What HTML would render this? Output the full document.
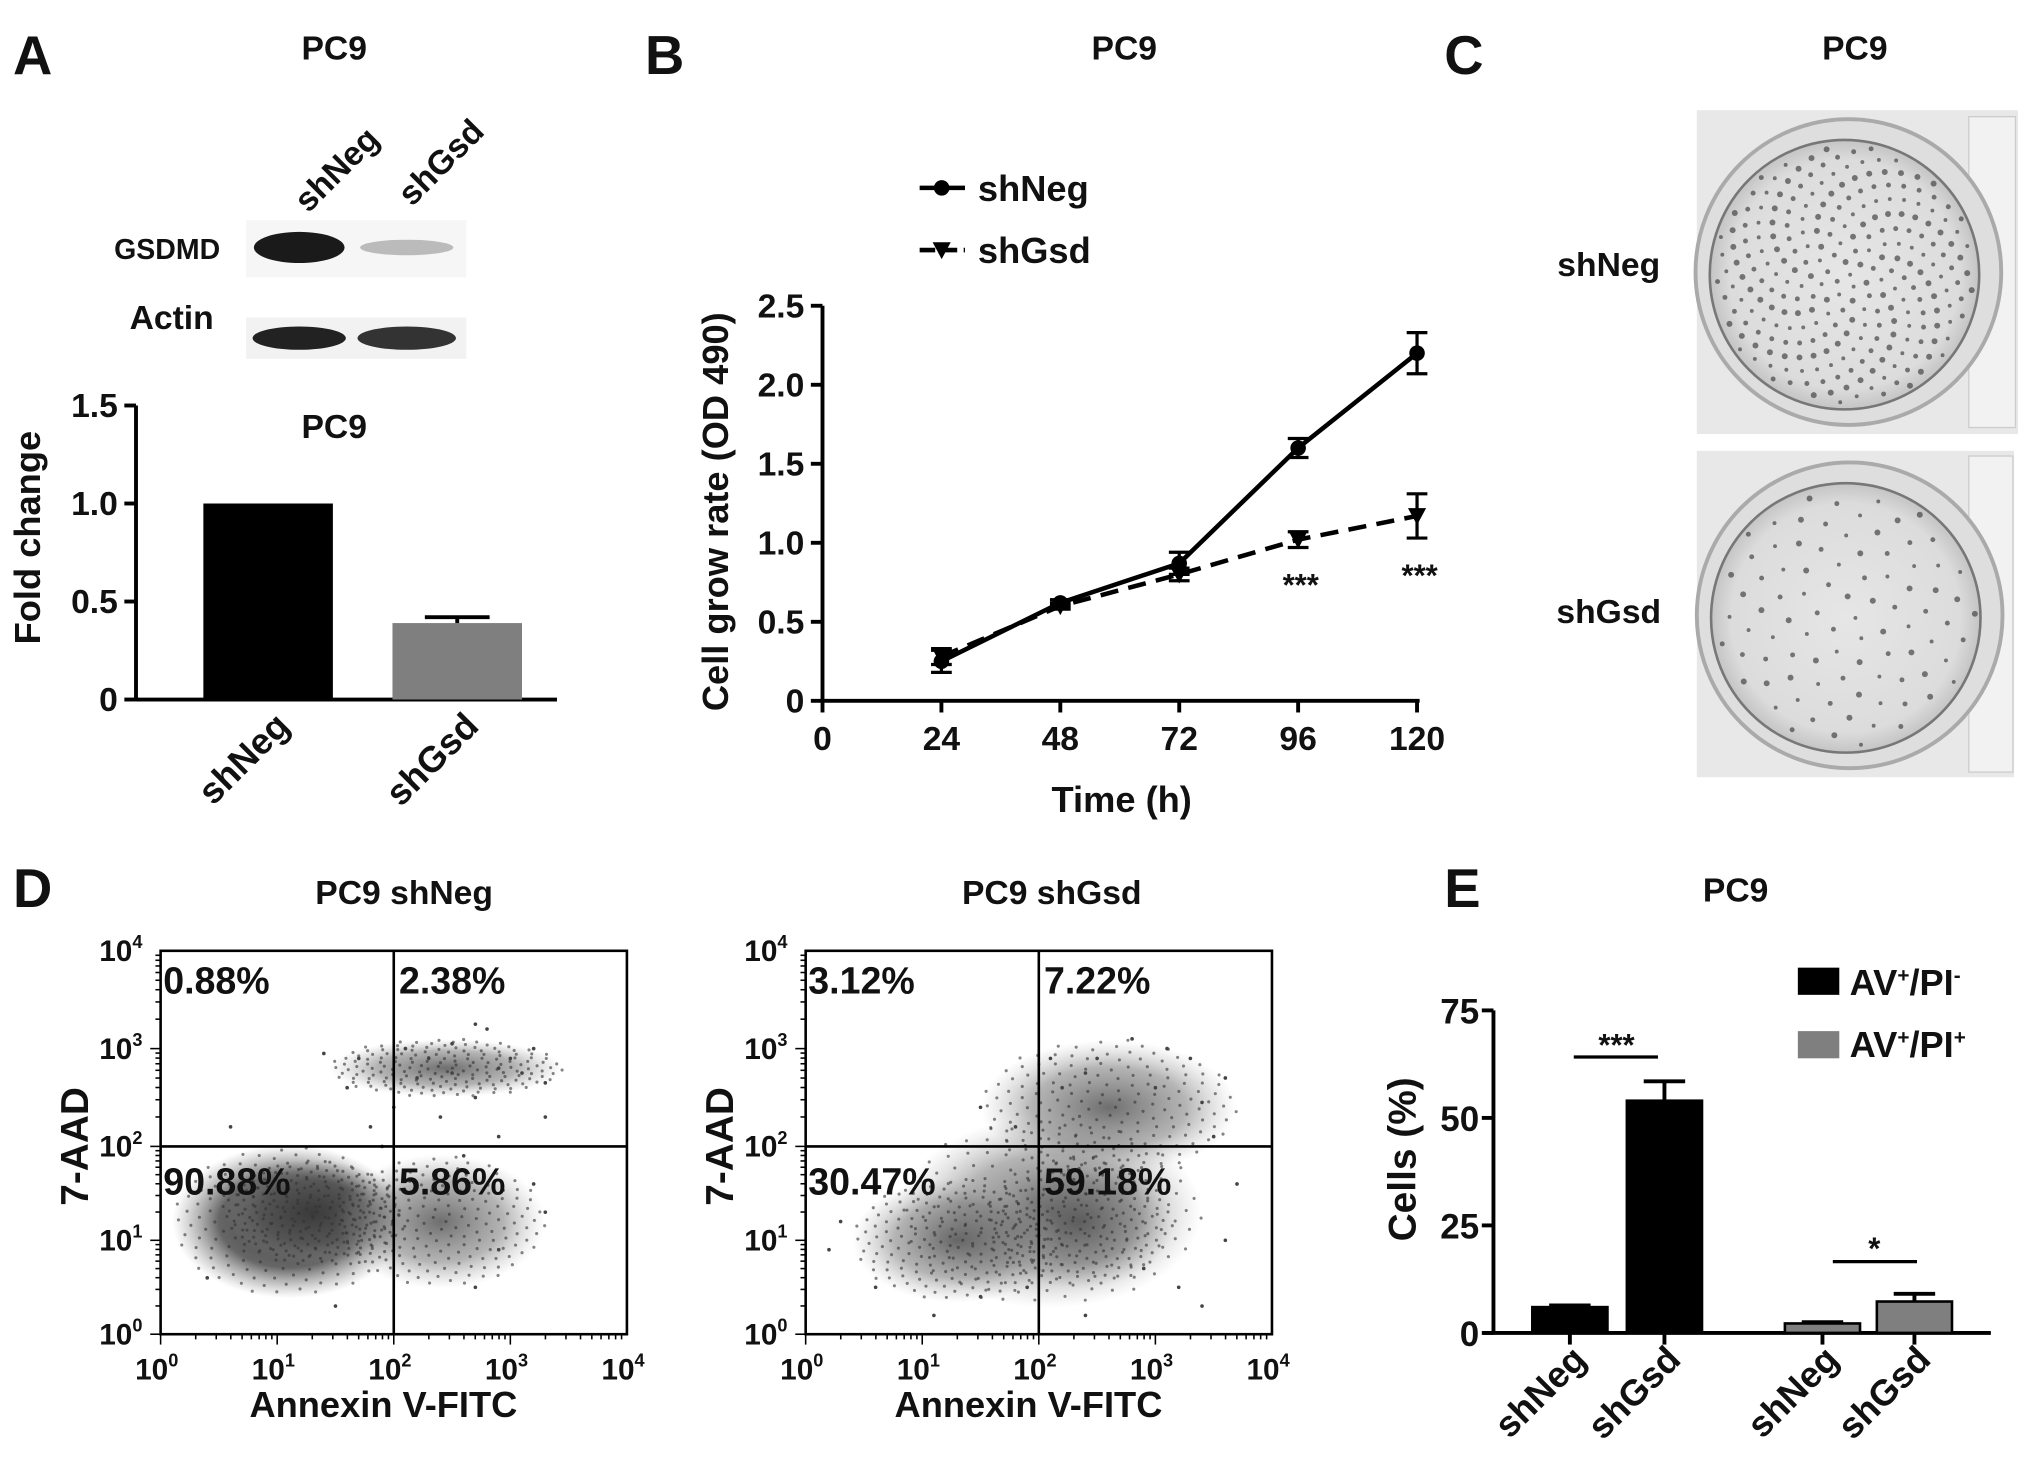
<!DOCTYPE html>
<html><head><meta charset="utf-8"><style>
html,body{margin:0;padding:0;background:#fff;}
svg{display:block;}
text{font-family:"Liberation Sans",Arial,sans-serif;font-weight:bold;fill:#111;}
</style></head><body>
<svg id="fig" width="2031" height="1469" viewBox="0 0 1568 1134" xmlns="http://www.w3.org/2000/svg">
<defs>
<radialGradient id="dens" cx="50%" cy="50%" r="50%">
<stop offset="0" stop-color="#3a3a3a" stop-opacity="1"/>
<stop offset="0.6" stop-color="#555" stop-opacity="0.9"/>
<stop offset="1" stop-color="#888" stop-opacity="0"/>
</radialGradient>
<radialGradient id="dens2" cx="50%" cy="50%" r="50%">
<stop offset="0" stop-color="#555" stop-opacity="0.85"/>
<stop offset="0.6" stop-color="#777" stop-opacity="0.55"/>
<stop offset="1" stop-color="#aaa" stop-opacity="0"/>
</radialGradient>
<radialGradient id="dish" cx="50%" cy="50%" r="50%">
<stop offset="0" stop-color="#e6e6e6"/>
<stop offset="0.85" stop-color="#dcdcdc"/>
<stop offset="1" stop-color="#c4c4c4"/>
</radialGradient>
</defs>

<text x="10" y="57" font-size="42">A</text>
<text x="498" y="57" font-size="42">B</text>
<text x="1115" y="57" font-size="42">C</text>
<text x="10" y="700" font-size="42">D</text>
<text x="1115" y="700" font-size="42">E</text>
<text x="258" y="46" font-size="26" text-anchor="middle">PC9</text>
<text x="868" y="46" font-size="26" text-anchor="middle">PC9</text>
<text x="1432" y="46" font-size="26" text-anchor="middle">PC9</text>
<text x="312" y="698" font-size="26" text-anchor="middle">PC9 shNeg</text>
<text x="812" y="698" font-size="26" text-anchor="middle">PC9 shGsd</text>
<text x="1340" y="696" font-size="26" text-anchor="middle">PC9</text>

<g>
<text font-size="26" transform="translate(238,165) rotate(-45)">shNeg</text>
<text font-size="26" transform="translate(318,160) rotate(-45)">shGsd</text>
<text x="170" y="200" font-size="22" text-anchor="end">GSDMD</text>
<text x="165" y="254" font-size="26" text-anchor="end">Actin</text>
<rect x="190" y="170" width="170" height="44" fill="#f6f6f6"/>
<ellipse cx="231" cy="191" rx="35" ry="12" fill="#1a1a1a"/>
<ellipse cx="314" cy="191" rx="36" ry="6" fill="#bbb"/>
<rect x="190" y="245" width="170" height="32" fill="#f2f2f2"/>
<ellipse cx="231" cy="261" rx="36" ry="9" fill="#222"/>
<ellipse cx="314" cy="261" rx="38" ry="9" fill="#333"/>
</g>

<g id="chartA"></g>
<g id="chartB"></g>

<g>
<text x="1242" y="213" font-size="26" text-anchor="middle">shNeg</text>
<text x="1242" y="481" font-size="26" text-anchor="middle">shGsd</text>
<g>
<rect x="1310" y="85" width="248" height="250" fill="#e8e8e8"/>
<rect x="1520" y="90" width="36" height="240" fill="#f2f2f2" stroke="#ccc"/>
<circle cx="1427" cy="210" r="118" fill="#dedede" stroke="#aaa" stroke-width="3"/>
<circle cx="1424" cy="212" r="104" fill="url(#dish)" stroke="#777" stroke-width="2"/>
<g id="colNeg"></g>
</g>
<g>
<rect x="1310" y="348" width="245" height="252" fill="#e8e8e8"/>
<rect x="1520" y="352" width="34" height="244" fill="#f2f2f2" stroke="#ccc"/>
<circle cx="1428" cy="475" r="118" fill="#dedede" stroke="#aaa" stroke-width="3"/>
<circle cx="1425" cy="477" r="104" fill="url(#dish)" stroke="#777" stroke-width="2"/>
<g id="colGsd"></g>
</g>
</g>

<g id="chartD1"></g>
<g id="chartD2"></g>
<g id="chartE"></g>
</svg>

<script>
const aCats = ["shNeg", "shGsd"];
const aVals = [1.0, 0.39];
const aErr = [0, 0.03];
const aTicks = [0, 0.5, 1.0, 1.5];
const aTickLabels = ["0", "0.5", "1.0", "1.5"];
const bTimes = [24, 48, 72, 96, 120];
const bNeg = [0.25, 0.62, 0.87, 1.60, 2.20];
const bNegErr = [0.07, 0.02, 0.07, 0.06, 0.13];
const bGsd = [0.28, 0.60, 0.80, 1.02, 1.17];
const bGsdErr = [0.05, 0.02, 0.04, 0.05, 0.14];
const bXTicks = [0, 24, 48, 72, 96, 120];
const bYTicks = [0, 0.5, 1.0, 1.5, 2.0, 2.5];
const bYTickLabels = ["0", "0.5", "1.0", "1.5", "2.0", "2.5"];
const bSig = ["", "", "", "***", "***"];
const dQuadNeg = ["0.88%", "2.38%", "90.88%", "5.86%"];
const dQuadGsd = ["3.12%", "7.22%", "30.47%", "59.18%"];
const dClustersNeg = [[1.1, 1.2, 1.0, 0.8], [1.3, 1.3, 0.75, 0.55], [2.4, 1.2, 0.9, 0.7], [2.45, 2.8, 1.0, 0.3]];
const dClustersGsd = [[2.1, 1.3, 1.3, 1.0], [2.35, 1.2, 0.8, 0.7], [1.3, 1.0, 0.9, 0.65], [2.6, 2.4, 1.1, 0.7]];
const dPtsNeg = [[1.7,2.9],[2.1,3.0],[2.3,2.9],[2.5,3.05],[2.8,3.2],[2.9,2.8],[3.1,2.75],[3.3,2.65],[2.0,2.4],[1.8,2.2],[2.4,2.3],[2.7,2.5],[3.3,2.3],[2.9,2.1],[1.9,2.0],[2.6,1.9],[3.2,1.6],[3.3,1.3],[2.9,0.9],[2.7,0.5],[1.5,0.3],[0.4,0.6],[3.0,2.9],[2.2,2.7],[1.6,2.6],[2.5,2.75],[3.2,3.0],[2.7,3.25],[1.4,2.95],[0.6,2.2]];
const dPtsGsd = [[1.5,2.4],[2.1,2.9],[2.5,2.9],[2.8,3.1],[3.3,2.9],[3.6,2.7],[3.5,2.1],[1.8,2.2],[3.0,2.6],[2.2,2.6],[3.7,1.6],[3.6,1.0],[3.2,0.5],[0.3,1.2],[0.6,0.5],[1.1,0.2],[1.5,0.4],[3.4,0.3],[2.4,0.2],[0.2,0.9],[3.1,3.0],[2.4,2.75],[3.4,2.45],[1.9,0.5],[2.9,0.7]];
const dTickLabels = ["0", "1", "2", "3", "4"];
const eCats = ["shNeg", "shGsd", "shNeg", "shGsd"];
const eVals = [6, 54, 2.2, 7.3];
const eErr = [0.4, 4.5, 0.3, 1.8];
const eSeries = ["AV+/PI-", "AV+/PI-", "AV+/PI+", "AV+/PI+"];
const eYTicks = [0, 25, 50, 75];
const colNegCount = 260;
const colGsdCount = 90;

const NS = "http://www.w3.org/2000/svg";
function mk(parent, tag, attrs, txt) {
  const e = document.createElementNS(NS, tag);
  for (const k in attrs) e.setAttribute(k, attrs[k]);
  if (txt !== undefined) e.textContent = txt;
  parent.appendChild(e);
  return e;
}

(function(){
  const g = document.getElementById('chartA');
  const x0 = 105, y0 = 540, yTop = 313, vMax = 1.5;
  const y = v => y0 - (v / vMax) * (y0 - yTop);
  const barX = [157, 303], bw = 100, fills = ["#000", "#7f7f7f"];
  let e = mk(g, 'line', {x1:x0, y1:yTop, x2:x0, y2:y0, stroke:'#000', 'stroke-width':3});
   
  e = mk(g, 'line', {x1:x0, y1:y0, x2:430, y2:y0, stroke:'#000', 'stroke-width':3});
   
  aTicks.forEach((t, i) => {
    mk(g, 'line', {x1:x0-9, y1:y(t), x2:x0, y2:y(t), stroke:'#000', 'stroke-width':3});
    const tl = mk(g, 'text', {x:x0-14, y:y(t)+9, 'font-size':26, 'text-anchor':'end'}, aTickLabels[i]);
     
  });
  aCats.forEach((c, i) => {
    const b = mk(g, 'rect', {x:barX[i], y:y(aVals[i]), width:bw, height:y0 - y(aVals[i]), fill:fills[i]});
     
    if (aErr[i] > 0) {
      const cx = barX[i] + bw/2;
      mk(g, 'line', {x1:cx, y1:y(aVals[i]+aErr[i]), x2:cx, y2:y(aVals[i]), stroke:'#000', 'stroke-width':3});
      mk(g, 'line', {x1:cx-25, y1:y(aVals[i]+aErr[i]), x2:cx+25, y2:y(aVals[i]+aErr[i]), stroke:'#000', 'stroke-width':3});
    }
    const l = mk(g, 'text', {'font-size':28, 'text-anchor':'end', transform:`translate(${barX[i]+bw/2+18},${y0+22}) rotate(-45)`}, c);
     
  });
  let t = mk(g, 'text', {x:258, y:338, 'font-size':26, 'text-anchor':'middle'}, 'PC9');
   
  t = mk(g, 'text', {'font-size':28, 'text-anchor':'middle', transform:'translate(31,415) rotate(-90)'}, 'Fold change');
   
})();

(function(){
  const g = document.getElementById('chartB');
  const x0 = 635, y0 = 541, xPer = (1094 - 635) / 120, yTop = 236, vMax = 2.5;
  const x = v => x0 + v * xPer, y = v => y0 - (v / vMax) * (y0 - yTop);
  let e = mk(g, 'line', {x1:x0, y1:yTop, x2:x0, y2:y0, stroke:'#000', 'stroke-width':3});
   
  e = mk(g, 'line', {x1:x0, y1:y0, x2:x(120)+2, y2:y0, stroke:'#000', 'stroke-width':3});
   
  bYTicks.forEach((t, i) => {
    mk(g, 'line', {x1:x0-9, y1:y(t), x2:x0, y2:y(t), stroke:'#000', 'stroke-width':3});
    const tl = mk(g, 'text', {x:x0-14, y:y(t)+9, 'font-size':26, 'text-anchor':'end'}, bYTickLabels[i]);
     
  });
  bXTicks.forEach(t => {
    mk(g, 'line', {x1:x(t), y1:y0, x2:x(t), y2:y0+9, stroke:'#000', 'stroke-width':3});
    const tl = mk(g, 'text', {x:x(t), y:y0+38, 'font-size':26, 'text-anchor':'middle'}, String(t));
     
  });
  function series(vals, errs, dash, marker, name) {
    const pts = bTimes.map((t, i) => `${x(t)},${y(vals[i])}`).join(' ');
    const l = mk(g, 'polyline', {points:pts, fill:'none', stroke:'#000', 'stroke-width':3.5, 'stroke-dasharray':dash});
     
    bTimes.forEach((t, i) => {
      const cx = x(t), hi = y(vals[i]+errs[i]), lo = y(vals[i]-errs[i]);
      mk(g, 'line', {x1:cx, y1:hi, x2:cx, y2:lo, stroke:'#000', 'stroke-width':2.5});
      mk(g, 'line', {x1:cx-8, y1:hi, x2:cx+8, y2:hi, stroke:'#000', 'stroke-width':2.5});
      mk(g, 'line', {x1:cx-8, y1:lo, x2:cx+8, y2:lo, stroke:'#000', 'stroke-width':2.5});
      let m;
      if (marker === 'circle') m = mk(g, 'circle', {cx:cx, cy:y(vals[i]), r:6, fill:'#000'});
      else { const cy = y(vals[i]); m = mk(g, 'polygon', {points:`${cx-7},${cy-6} ${cx+7},${cy-6} ${cx},${cy+7}`, fill:'#000'}); }
       
    });
  }
  series(bNeg, bNegErr, 'none', 'circle', 'shneg');
  series(bGsd, bGsdErr, '14,8', 'tri', 'shgsd');
  bTimes.forEach((t, i) => {
    if (bSig[i]) {
      const s = mk(g, 'text', {x:x(t)+2, y:y(bGsd[i]-bGsdErr[i])+37, 'font-size':24, 'text-anchor':'middle', 'font-weight':'normal'}, bSig[i]);
       
    }
  });
  let le = mk(g, 'g', {});  
  mk(le, 'line', {x1:710, y1:145, x2:745, y2:145, stroke:'#000', 'stroke-width':3.5});
  mk(le, 'circle', {cx:727, cy:145, r:6, fill:'#000'});
  mk(le, 'text', {x:755, y:155, 'font-size':28}, 'shNeg');
  le = mk(g, 'g', {});  
  mk(le, 'line', {x1:710, y1:193, x2:745, y2:193, stroke:'#000', 'stroke-width':3.5, 'stroke-dasharray':'12,5'});
  mk(le, 'polygon', {points:'720,187 734,187 727,200', fill:'#000'});
  mk(le, 'text', {x:755, y:203, 'font-size':28}, 'shGsd');
  let t = mk(g, 'text', {x:866, y:627, 'font-size':28, 'text-anchor':'middle'}, 'Time (h)');
   
  t = mk(g, 'text', {'font-size':28, 'text-anchor':'middle', transform:'translate(562,395) rotate(-90)'}, 'Cell grow rate (OD 490)');
   
})();

function colonies(id, cx, cy, n, r) {
  const g = document.getElementById(id);
  for (let i = 0; i < n; i++) {
    const rr = r * Math.sqrt((i + 0.5) / n), a = i * 2.39996;
    const c = mk(g, 'circle', {cx:cx + rr*Math.cos(a), cy:cy + rr*Math.sin(a), r:1.5 + (i % 3)*0.4, fill:'#444', opacity:0.7});
     
  }
}
colonies('colNeg', 1424, 212, colNegCount, 100);
colonies('colGsd', 1425, 477, colGsdCount, 100);

function flow(id, left, quad, clusters, pts, showDense) {
  const g = document.getElementById(id);
  const top = 734, bottom = 1030, right = left + 360, midY = 885;
  const x = v => left + v * (right - left) / 4;
  const y = v => v <= 2 ? bottom - v * (bottom - midY) / 2 : midY - (v - 2) * (midY - top) / 2;
  clusters.forEach((c, i) => {
    const el = mk(g, 'ellipse', {cx:x(c[0]), cy:y(c[1]), rx:c[2]*(right-left)/4, ry:c[3]*(bottom-top)/4, fill:(i < 2 && showDense) ? 'url(#dens)' : 'url(#dens2)'});
     
  });
  clusters.forEach(c => {
    const n = 180;
    for (let i = 0; i < n; i++) {
      const rr = Math.sqrt((i + 0.5) / n), a = i * 2.39996;
      const d = mk(g, 'circle', {cx:x(c[0] + c[2]*rr*Math.cos(a)), cy:y(c[1] + c[3]*rr*Math.sin(a)), r:1.2, fill:'#333', opacity:0.6});
       
    }
  });
  pts.forEach(p => {
    const d = mk(g, 'circle', {cx:x(p[0]), cy:y(p[1]), r:1.4, fill:'#444'});
     
  });
  let f = mk(g, 'rect', {x:left, y:top, width:right-left, height:bottom-top, fill:'none', stroke:'#000', 'stroke-width':2});
   
  mk(g, 'line', {x1:x(2), y1:top, x2:x(2), y2:bottom, stroke:'#000', 'stroke-width':2});
  mk(g, 'line', {x1:left, y1:y(2), x2:right, y2:y(2), stroke:'#000', 'stroke-width':2});
  for (let d = 0; d < 4; d++) for (let k = 1; k <= 9; k++) {
    const v = d + Math.log10(k), len = k === 1 ? 8 : 4;
    mk(g, 'line', {x1:x(v), y1:bottom, x2:x(v), y2:bottom+len, stroke:'#000', 'stroke-width':1.2});
    mk(g, 'line', {x1:left-len, y1:y(v), x2:left, y2:y(v), stroke:'#000', 'stroke-width':1.2});
  }
  dTickLabels.forEach((l, i) => {
    const tx = mk(g, 'text', {x:x(i)-3, y:bottom+35, 'font-size':23, 'font-weight':'normal', 'text-anchor':'middle'});
     
    mk(tx, 'tspan', {}, '10'); mk(tx, 'tspan', {dy:-10, 'font-size':14}, l);
    const ty = mk(g, 'text', {x:left-14, y:y(i)+8, 'font-size':23, 'font-weight':'normal', 'text-anchor':'end'});
     
    mk(ty, 'tspan', {}, '10'); mk(ty, 'tspan', {dy:-10, 'font-size':14}, l);
  });
  const qp = [[left+2, top+33], [x(2)+4, top+33], [left+2, y(2)+37], [x(2)+4, y(2)+37]];
  quad.forEach((q, i) => {
    const t = mk(g, 'text', {x:qp[i][0], y:qp[i][1], 'font-size':29}, q);
     
  });
  let t = mk(g, 'text', {x:(left+right)/2-8, y:1094, 'font-size':28, 'text-anchor':'middle'}, 'Annexin V-FITC');
   
  t = mk(g, 'text', {'font-size':30, 'text-anchor':'middle', transform:`translate(${left-56},885) rotate(-90)`}, '7-AAD');
   
}
flow('chartD1', 124, dQuadNeg, dClustersNeg, dPtsNeg, true);
flow('chartD2', 622, dQuadGsd, dClustersGsd, dPtsGsd, false);

(function(){
  const g = document.getElementById('chartE');
  const x0 = 1153, y0 = 1029, yTop = 780, vMax = 75;
  const y = v => y0 - (v / vMax) * (y0 - yTop);
  const barX = [1183, 1256, 1378, 1449], bw = 58;
  const fillFor = s => s === 'AV+/PI-' ? '#000' : '#7f7f7f';
  mk(g, 'line', {x1:x0, y1:yTop, x2:x0, y2:y0, stroke:'#000', 'stroke-width':3});
  mk(g, 'line', {x1:x0-8, y1:y0, x2:1537, y2:y0, stroke:'#000', 'stroke-width':3});
  eYTicks.forEach(t => {
    mk(g, 'line', {x1:x0-9, y1:y(t), x2:x0, y2:y(t), stroke:'#000', 'stroke-width':3});
    const tl = mk(g, 'text', {x:x0-11, y:y(t)+10, 'font-size':27, 'text-anchor':'end'}, String(t));
     
  });
  eCats.forEach((c, i) => {
    const cx = barX[i] + bw/2, top = y(eVals[i]), e = y(eVals[i] + eErr[i]);
    mk(g, 'line', {x1:cx, y1:e, x2:cx, y2:top, stroke:'#000', 'stroke-width':3});
    mk(g, 'line', {x1:cx-16, y1:e, x2:cx+16, y2:e, stroke:'#000', 'stroke-width':3});
    const b = mk(g, 'rect', {x:barX[i], y:top, width:bw, height:y0 - top, fill:fillFor(eSeries[i]), stroke:'#000', 'stroke-width':2});
     
    mk(g, 'line', {x1:cx, y1:y0, x2:cx, y2:y0+9, stroke:'#000', 'stroke-width':3});
    const l = mk(g, 'text', {'font-size':28, 'text-anchor':'end', transform:`translate(${cx+14},${y0+22}) rotate(-45)`}, c);
     
  });
  mk(g, 'line', {x1:1215, y1:816, x2:1280, y2:816, stroke:'#000', 'stroke-width':2.5});
  let s = mk(g, 'text', {x:1248, y:815, 'font-size':24, 'font-weight':'normal', 'text-anchor':'middle'}, '***');
   
  mk(g, 'line', {x1:1415, y1:974, x2:1480, y2:974, stroke:'#000', 'stroke-width':2.5});
  s = mk(g, 'text', {x:1447, y:972, 'font-size':24, 'font-weight':'normal', 'text-anchor':'middle'}, '*');
   
  let le = mk(g, 'g', {});  
  mk(le, 'rect', {x:1388, y:747, width:32, height:21, fill:'#000'});
  let t = mk(le, 'text', {x:1428, y:768, 'font-size':28}, 'AV'); mk(t, 'tspan', {dy:-10, 'font-size':16}, '+'); mk(t, 'tspan', {dy:10}, '/PI'); mk(t, 'tspan', {dy:-10, 'font-size':16}, '-');
  le = mk(g, 'g', {});  
  mk(le, 'rect', {x:1388, y:796, width:32, height:21, fill:'#7f7f7f'});
  t = mk(le, 'text', {x:1428, y:816, 'font-size':28}, 'AV'); mk(t, 'tspan', {dy:-10, 'font-size':16}, '+'); mk(t, 'tspan', {dy:10}, '/PI'); mk(t, 'tspan', {dy:-10, 'font-size':16}, '+');
  t = mk(g, 'text', {'font-size':30, 'text-anchor':'middle', transform:'translate(1093,895) rotate(-90)'}, 'Cells (%)');
   
})();
</script>
</body></html>
